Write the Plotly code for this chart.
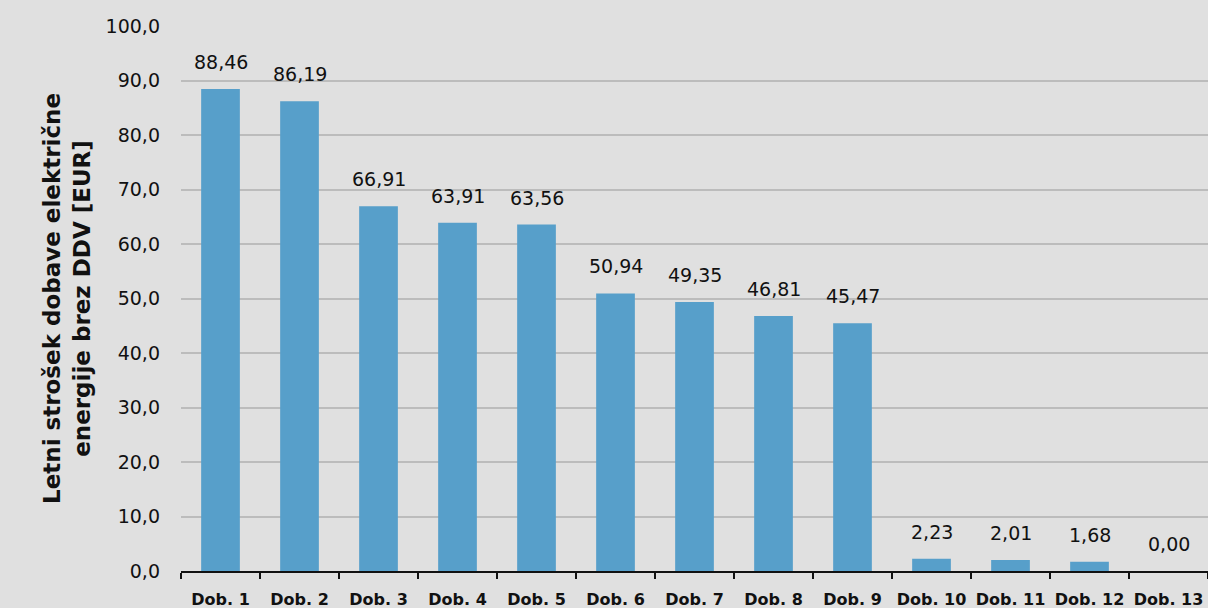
import plotly.graph_objects as go

categories = ["Dob. 1", "Dob. 2", "Dob. 3", "Dob. 4", "Dob. 5", "Dob. 6", "Dob. 7",
              "Dob. 8", "Dob. 9", "Dob. 10", "Dob. 11", "Dob. 12", "Dob. 13"]
values = [88.46, 86.19, 66.91, 63.91, 63.56, 50.94, 49.35, 46.81, 45.47, 2.23, 2.01, 1.68, 0.00]
y_ticks = [0, 10, 20, 30, 40, 50, 60, 70, 80, 90, 100]

font_family = "'DejaVu Sans', sans-serif"

fig = go.Figure(go.Bar(
    x=categories, y=values,
    marker=dict(color="#579fca", line=dict(width=0)),
    hoverinfo="x+y",
))

for c, v in zip(categories, values):
    fig.add_annotation(
        x=c, y=v, text=f"{v:.2f}".replace(".", ","), showarrow=False,
        yanchor="bottom", yshift=14,
        font=dict(family=font_family, size=19, color="#111111"),
    )

fig.update_layout(
    width=1208, height=608,
    margin=dict(l=181, r=0, t=26, b=37, autoexpand=False),
    paper_bgcolor="#e0e0e0", plot_bgcolor="#e0e0e0",
    separators=",.",
    bargap=0.51,
    showlegend=False,
    font=dict(family=font_family, color="#111111"),
    xaxis=dict(
        type="category", tickson="boundaries", ticks="outside", ticklen=6,
        tickwidth=2, tickcolor="#111111",
        showline=True, linecolor="#111111", linewidth=2,
        tickvals=categories, ticktext=[f"<b>{c}</b>" for c in categories],
        tickfont=dict(family=font_family, size=16, color="#111111"),
        tickangle=0, automargin=False,
        ticklabelstandoff=13,
        showgrid=False,
    ),
    yaxis=dict(
        range=[0, 100], tickvals=y_ticks, tickformat=".1f",
        showgrid=True, gridcolor="#bcbcbc", gridwidth=2,
        zeroline=False, ticks="", ticklabelstandoff=20, automargin=False,
        tickfont=dict(family=font_family, size=19, color="#111111"),
        title=dict(text="<b>Letni strošek dobave električne<br>energije brez DDV [EUR]</b>",
                   font=dict(family=font_family, size=23, color="#111111"),
                   standoff=8),
    ),
)

fig.write_html(
    "out.html",
    config={"displayModeBar": False},
    post_script="document.body.style.margin='0';document.body.style.background='#e0e0e0';document.body.style.overflow='hidden';",
)
